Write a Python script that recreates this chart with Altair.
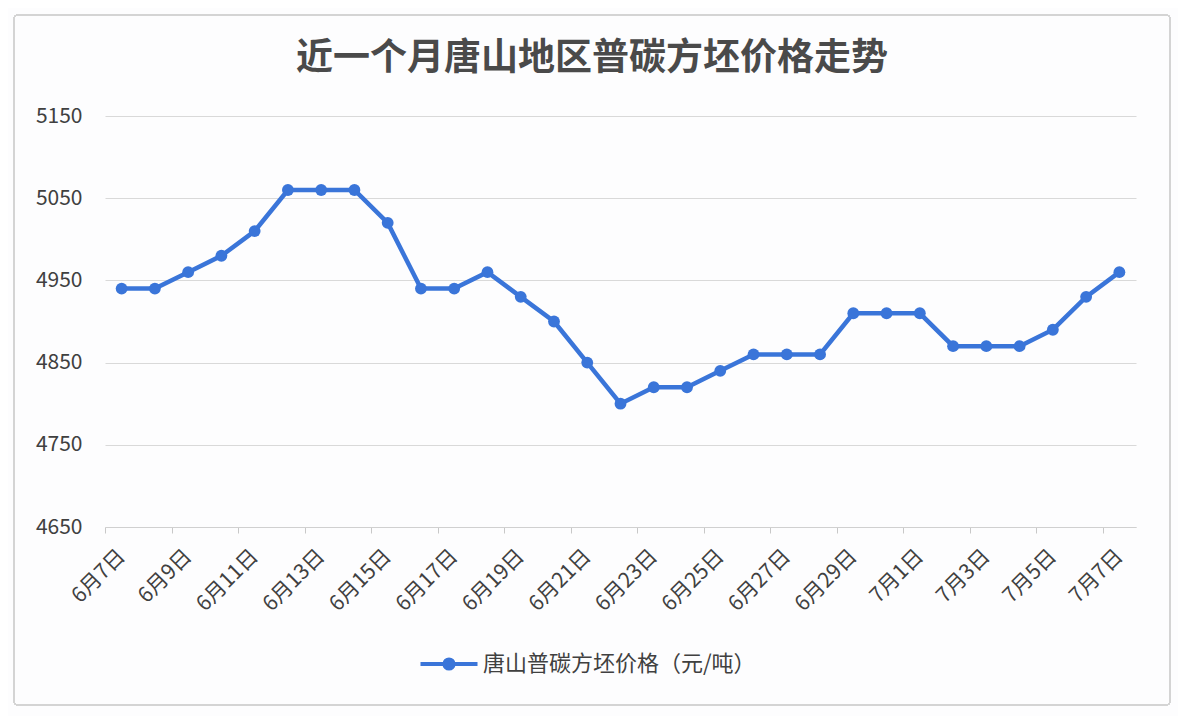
import altair as alt
import pandas as pd

dates = ["6月7日", "6月8日", "6月9日", "6月10日", "6月11日", "6月12日", "6月13日", "6月14日",
         "6月15日", "6月16日", "6月17日", "6月18日", "6月19日", "6月20日", "6月21日", "6月22日",
         "6月23日", "6月24日", "6月25日", "6月26日", "6月27日", "6月28日", "6月29日", "6月30日",
         "7月1日", "7月2日", "7月3日", "7月4日", "7月5日", "7月6日", "7月7日"]
prices = [4940, 4940, 4960, 4980, 5010, 5060, 5060, 5060,
          5020, 4940, 4940, 4960, 4930, 4900, 4850, 4800,
          4820, 4820, 4840, 4860, 4860, 4860, 4910, 4910,
          4910, 4870, 4870, 4870, 4890, 4930, 4960]
series_name = "唐山普碳方坯价格（元/吨）"
title_text = "近一个月唐山地区普碳方坯价格走势"
y_ticks = [4650, 4750, 4850, 4950, 5050, 5150]
x_tick_labels = dates[::2]

FONT = "Noto Sans CJK SC"
BLUE = "#3a75d9"
W, H = 1031, 411
BW = W / len(dates)

df = pd.DataFrame({"date": dates, "price": prices, "series": series_name})
title_df = pd.DataFrame({"t": [title_text]})

x_enc = alt.X(
    "date:O",
    sort=dates,
    bandPosition=0.5,
    scale=alt.Scale(type="band", domain=dates, paddingInner=0, paddingOuter=0),
    axis=alt.Axis(
        title=None, values=x_tick_labels, labelAngle=-45, labelAlign="right",
        labelBaseline="middle", tickOffset=-BW / 2, labelOffset=BW / 2,
        tickSize=6, tickColor="#c8c8c8", domainColor="#d0d0d0", labelPadding=20,
        labelFontSize=21, labelColor="#404040", labelFont=FONT, grid=False,
    ),
)
y_enc = alt.Y(
    "price:Q",
    scale=alt.Scale(domain=[4650, 5150], nice=False, zero=False),
    axis=alt.Axis(
        title=None, values=y_ticks, format="d", tickSize=0, domain=False, labelPadding=23,
        labelFontSize=21, labelColor="#404040", labelFont=FONT,
        grid=True, gridColor="#d9d9d9", gridWidth=1,
    ),
)

frame = alt.Chart(df).mark_rect(
    fill=None, stroke="#d4d4d4", strokeWidth=1.2, cornerRadius=4, clip=False
).encode(
    x=alt.value(-91), x2=alt.value(1065), y=alt.value(-101), y2=alt.value(589)
)

title = alt.Chart(title_df).mark_text(
    font=FONT, fontSize=37, fontWeight="bold", color="#4a4a4a",
    align="center", baseline="middle",
).encode(
    text="t:N", x=alt.value(487), y=alt.value(-57)
)

line = alt.Chart(df).mark_line(strokeWidth=4.5).encode(
    x=x_enc,
    y=y_enc,
    color=alt.Color(
        "series:N",
        scale=alt.Scale(range=[BLUE]),
        legend=alt.Legend(
            title=None, orient="none", legendX=313, legendY=517,
            symbolType="M-1,0L1,0M-0.16,0A0.16,0.16,0,1,0,0.16,0A0.16,0.16,0,1,0,-0.16,0Z",
            symbolSize=3250, symbolStrokeWidth=4, symbolFillColor=BLUE,
            symbolStrokeColor=BLUE, labelFontSize=22, labelColor="#404040",
            labelFont=FONT, labelOffset=3, labelLimit=0,
        ),
    ),
)

points = alt.Chart(df).mark_circle(size=140, opacity=1, color=BLUE).encode(
    x=x_enc, y=y_enc
)

chart = alt.layer(frame, title, line, points).properties(
    width=W,
    height=H,
    padding={"left": 97, "top": 108, "right": 42, "bottom": 189},
    autosize=alt.AutoSizeParams(type="none"),
    background="#fdfdfe",
).configure_view(stroke=None)

chart.save("out.html", embed_options={"renderer": "svg", "actions": False})
